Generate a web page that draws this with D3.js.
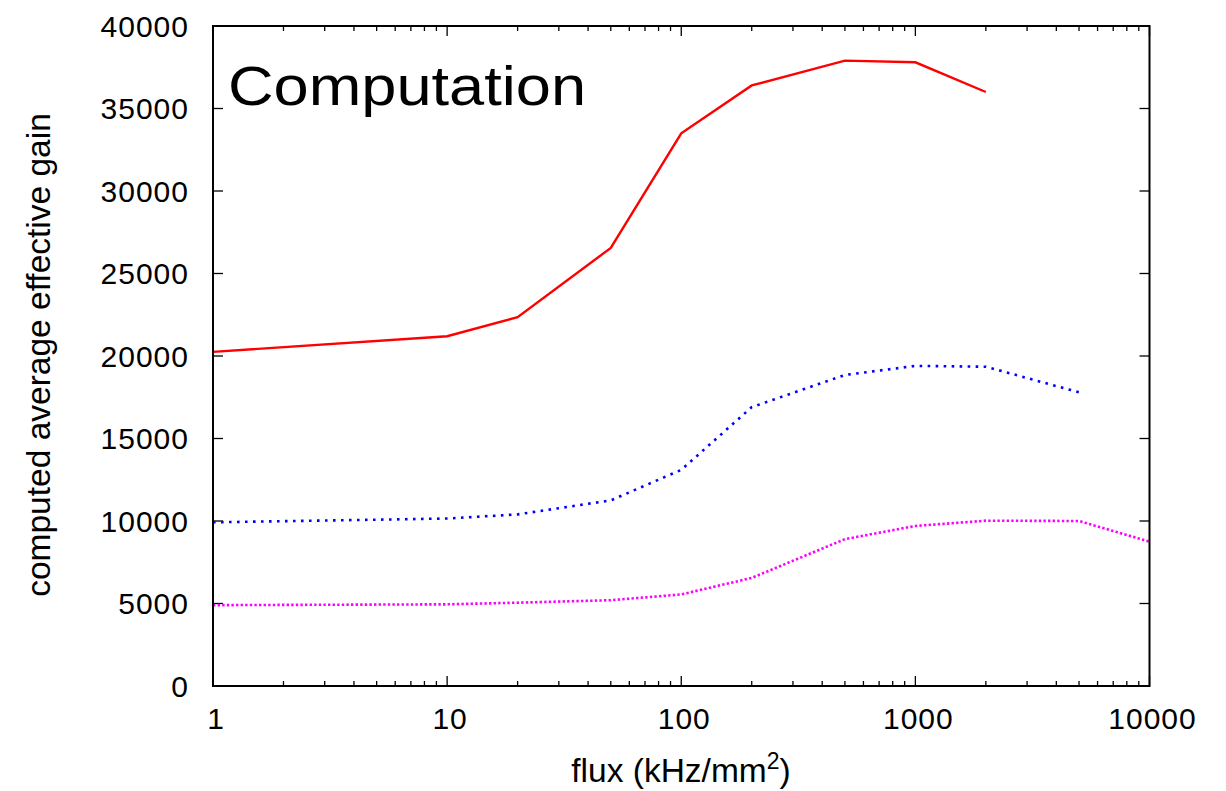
<!DOCTYPE html>
<html>
<head>
<meta charset="utf-8">
<script src="https://cdn.jsdelivr.net/npm/d3@7"></script>
<style>
  html, body { margin: 0; padding: 0; background: #fff; }
  svg { display: block; }
  text { font-family: "Liberation Sans", Arial, Helvetica, sans-serif; fill: #000; }
</style>
</head>
<body>
<svg id="chart" width="1226" height="791"></svg>
<script>
// Flux values (kHz/mm^2) at which the gain was computed
const fluxRed = [1, 10, 20, 50, 100, 200, 500, 1000, 2000];
const gainRed = [20250, 21200, 22350, 26550, 33500, 36400, 37900, 37800, 36000];

const fluxBlue = [1, 10, 20, 50, 100, 200, 500, 1000, 2000, 5000];
const gainBlue = [9920, 10150, 10400, 11250, 13100, 16900, 18850, 19400, 19350, 17800];

const fluxMagenta = [1, 10, 20, 50, 100, 200, 500, 1000, 2000, 5000, 10000];
const gainMagenta = [4900, 4950, 5050, 5200, 5550, 6550, 8900, 9700, 10020, 10000, 8750];

const xTickValues = [1, 10, 100, 1000, 10000];
const yTickValues = [0, 5000, 10000, 15000, 20000, 25000, 30000, 35000, 40000];

const titleText = "Computation";
const xLabel = "flux (kHz/mm";
const yLabel = "computed average effective gain";

const svg = d3.select("#chart");
const margin = { left: 213, right: 1226 - 1149.5, top: 26, bottom: 791 - 686 };
const W = 1226, H = 791;
const x0 = margin.left, x1 = W - margin.right, y0 = H - margin.bottom, y1 = margin.top;

const x = d3.scaleLog().domain([1, 10000]).range([x0, x1]);
const y = d3.scaleLinear().domain([0, 40000]).range([y0, y1]);

// minor ticks 2..9 within each decade
const minorX = [];
for (let d = 1; d < 10000; d *= 10) for (let k = 2; k <= 9; k++) minorX.push(d * k);

const tickG = svg.append("g").attr("stroke", "#000").attr("stroke-width", 1.3);
// x major ticks (bottom and top, pointing inward)
xTickValues.forEach(v => {
  tickG.append("line").attr("x1", x(v)).attr("x2", x(v)).attr("y1", y0).attr("y2", y0 - 10);
  tickG.append("line").attr("x1", x(v)).attr("x2", x(v)).attr("y1", y1).attr("y2", y1 + 10);
});
minorX.forEach(v => {
  tickG.append("line").attr("x1", x(v)).attr("x2", x(v)).attr("y1", y0).attr("y2", y0 - 5);
  tickG.append("line").attr("x1", x(v)).attr("x2", x(v)).attr("y1", y1).attr("y2", y1 + 5);
});
yTickValues.forEach(v => {
  tickG.append("line").attr("x1", x0).attr("x2", x0 + 10).attr("y1", y(v)).attr("y2", y(v));
  tickG.append("line").attr("x1", x1).attr("x2", x1 - 10).attr("y1", y(v)).attr("y2", y(v));
});

// tick labels
svg.append("g").selectAll("text").data(yTickValues).join("text")
  .attr("x", x0 - 24).attr("y", d => y(d)).attr("dy", "0.36em")
  .attr("text-anchor", "end").attr("font-size", 30).attr("letter-spacing", 1)
  .text(d => d);
svg.append("g").selectAll("text").data(xTickValues).join("text")
  .attr("x", d => x(d) + 3).attr("y", 728.5)
  .attr("text-anchor", "middle").attr("font-size", 30).attr("letter-spacing", 1)
  .text(d => d);

// data lines
const line = d3.line().x(d => x(d[0])).y(d => y(d[1]));
const plot = svg.append("g");
plot.append("path").datum(d3.zip(fluxRed, gainRed)).attr("d", line)
  .attr("fill", "none").attr("stroke", "#ff0000").attr("stroke-width", 2.4)
  .attr("stroke-linejoin", "miter");
plot.append("path").datum(d3.zip(fluxBlue, gainBlue)).attr("d", line)
  .attr("fill", "none").attr("stroke", "#0000ff").attr("stroke-width", 2.6)
  .attr("stroke-dasharray", "2.6,5.4");
plot.append("path").datum(d3.zip(fluxMagenta, gainMagenta)).attr("d", line)
  .attr("fill", "none").attr("stroke", "#ff00ff").attr("stroke-width", 2.6)
  .attr("stroke-dasharray", "2.4,2.2");

// frame
svg.append("rect").attr("x", x0).attr("y", y1).attr("width", x1 - x0).attr("height", y0 - y1)
  .attr("fill", "none").attr("stroke", "#000").attr("stroke-width", 2);

// title inside the plot
svg.append("text").attr("x", 228).attr("y", 105)
  .attr("font-size", 56).attr("textLength", 358).attr("lengthAdjust", "spacingAndGlyphs")
  .text(titleText);

// axis titles
const xl = svg.append("text").attr("x", 681).attr("y", 782)
  .attr("text-anchor", "middle").attr("font-size", 33.5);
xl.append("tspan").text(xLabel);
xl.append("tspan").attr("dy", -13).attr("font-size", 23).text("2");
xl.append("tspan").attr("dy", 13).text(")");

svg.append("text")
  .attr("transform", "translate(50,355) rotate(-90)")
  .attr("text-anchor", "middle").attr("font-size", 33.5)
  .text(yLabel);
</script>
</body>
</html>
